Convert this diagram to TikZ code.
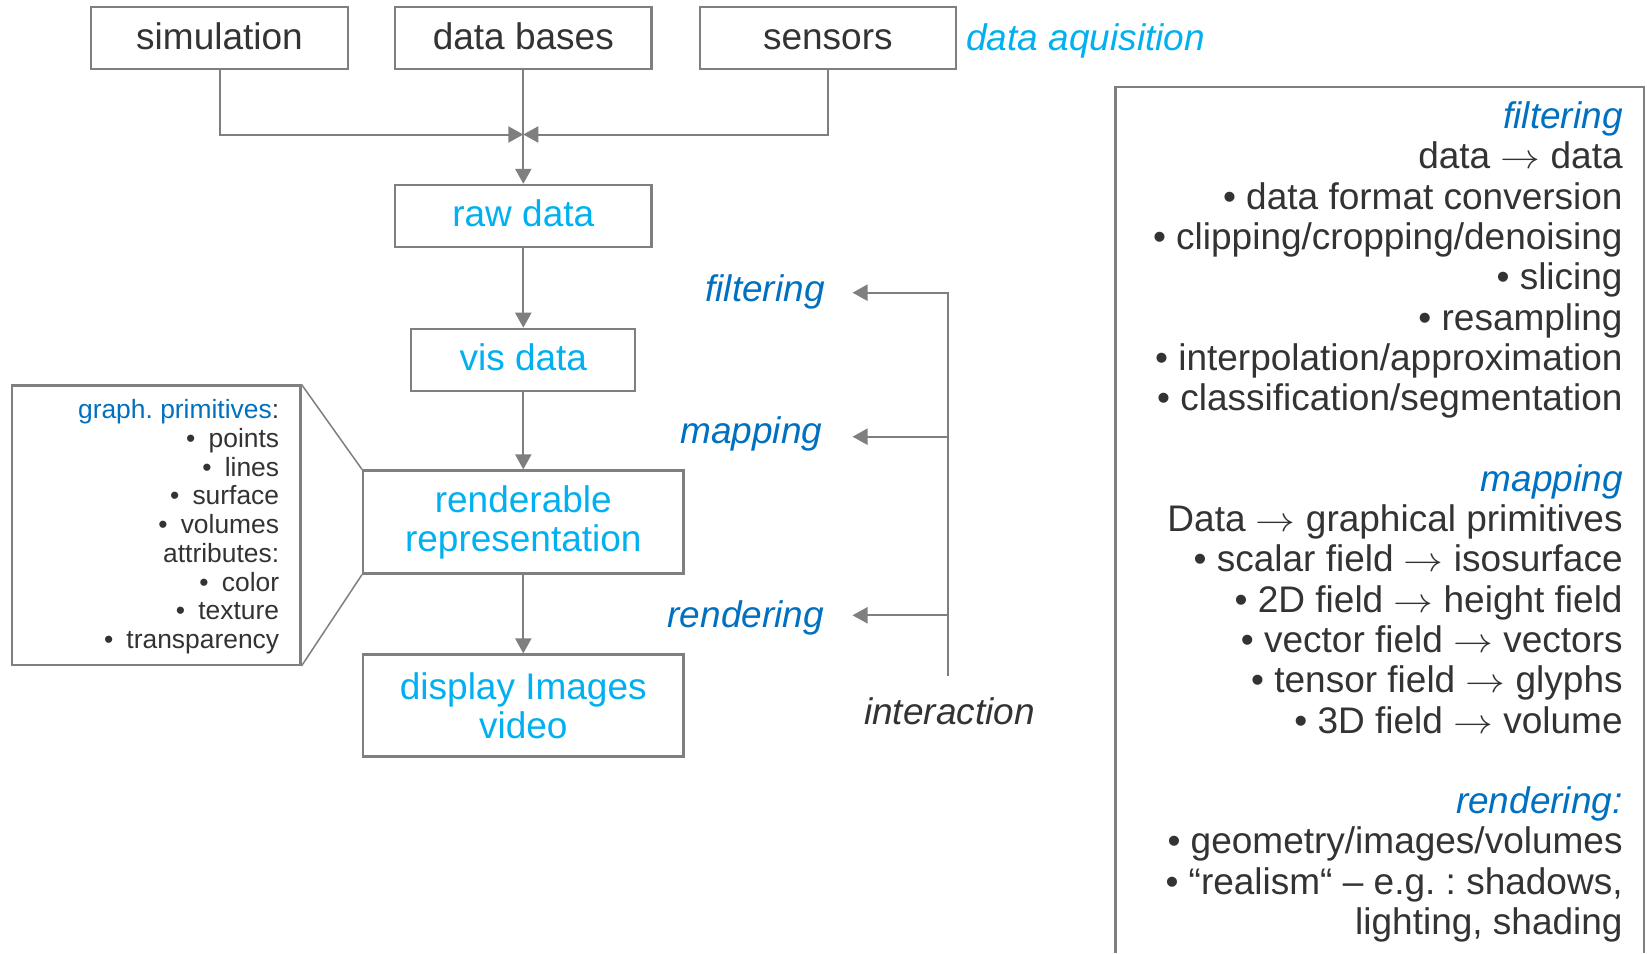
\documentclass[tikz,border=0pt]{standalone}
\usepackage{fontspec}
\usepackage{graphicx}
\setmainfont{Liberation Sans}
\usetikzlibrary{arrows.meta}
\definecolor{txt}{HTML}{333333}
\definecolor{lblue}{HTML}{00B0F0}
\definecolor{dblue}{HTML}{0070C0}
\definecolor{edge}{HTML}{7F7F7F}
\frenchspacing
% thin, slightly widened arrow for the panel text
\newcommand{\maparrow}{\scalebox{1.15}[1.0]{$\rightarrow$}}

\begin{document}
\begin{tikzpicture}[x=0.5pt,y=-0.5pt,
  bigfont/.style={font=\fontsize{18.5}{19.5}\selectfont},
  smallfont/.style={font=\fontsize{13.2}{14.4}\selectfont},
  box/.style={draw=edge, line width=1.1pt, inner sep=0pt, bigfont, align=center},
  oneline/.style={text height=13.3pt, text depth=2.6pt},
  conn/.style={draw=edge, line width=1pt},
  tip/.style={-{Triangle[length=7.5pt,width=8pt]}},
  rline/.style={anchor=base east, inner sep=0pt, bigfont, text=txt},
  pline/.style={anchor=base east, inner sep=0pt, smallfont, text=txt},
  stage/.style={anchor=base east, inner sep=0pt, bigfont, text=dblue, font=\fontsize{18.5}{19.5}\selectfont\itshape},
]
% canvas
\fill[white] (0,0) rectangle (1647,953);
\useasboundingbox (0,0) rectangle (1647,953);

% data sources
\node[box,oneline,text=txt,minimum width=128.2pt,minimum height=31pt] (sim) at (219.5,38.3) {simulation};
\node[box,oneline,text=txt,minimum width=128.2pt,minimum height=31pt] (db)  at (523.3,38.3) {data bases};
\node[box,oneline,text=txt,minimum width=128.2pt,minimum height=31pt] (sen) at (827.8,38.3) {sensors};
\node[anchor=base west, inner sep=0pt, text=lblue, font=\fontsize{18.5}{19.5}\selectfont\itshape] (acq) at (966,50) {data aquisition};

% pipeline stages
\node[box,oneline,text=lblue,minimum width=128.2pt,minimum height=31pt] (raw) at (523.3,215.9) {raw data};
\node[box,oneline,text=lblue,minimum width=112pt,minimum height=31pt] (vis) at (523.3,359.8) {vis data};
\node[box,text=lblue,minimum width=160.2pt,minimum height=51.5pt] (rend) at (523.3,522) {renderable\\representation};
\node[box,text=lblue,minimum width=160.2pt,minimum height=51pt] (disp) at (523.3,705.5) {display Images\\video};

% merging the sources
\coordinate (join) at (523.3,134.5);
\draw[conn,tip] (sim.south) |- (join);
\draw[conn,tip] (sen.south) |- (join);
\draw[conn,tip] (db.south) -- (raw.north);
\draw[conn,tip] (raw.south) -- (vis.north);
\draw[conn,tip] (vis.south) -- (rend.north);
\draw[conn,tip] (rend.south) -- (disp.north);

% graphical primitives call-out
\node[draw=edge, line width=1.1pt, minimum width=144.4pt, minimum height=139.7pt, inner sep=0pt] (prim) at (156,525.2) {};
\draw[edge, line width=0.75pt] (prim.north east) -- (rend.north west);
\draw[edge, line width=0.75pt] (prim.south east) -- (rend.south west);
\node[pline] (p0) at (279.5,418.5) {\textcolor{dblue}{graph. primitives}:};
\node[pline] (p1) at (279.5,447.25) {•\hspace{0.5em}points};
\node[pline] (p2) at (279.5,476) {•\hspace{0.5em}lines};
\node[pline] (p3) at (279.5,504.75) {•\hspace{0.5em}surface};
\node[pline] (p4) at (279.5,533.5) {•\hspace{0.5em}volumes};
\node[pline] (p5) at (279.5,562.25) {attributes:};
\node[pline] (p6) at (279.5,591) {•\hspace{0.5em}color};
\node[pline] (p7) at (279.5,619.75) {•\hspace{0.5em}texture};
\node[pline] (p8) at (279.5,648.5) {•\hspace{0.5em}transparency};

% interaction with the stages
\node[stage] (lf) at (825,301.7) {filtering};
\node[stage] (lm) at (822.7,443.3) {mapping};
\node[stage] (lr) at (824.3,627.7) {rendering};
\node[anchor=base, inner sep=0pt, text=txt, font=\fontsize{18.5}{19.5}\selectfont\itshape] (inter) at (949.5,724.3) {interaction};
\coordinate (fa) at (852.5,292.7);
\coordinate (ma) at (852.5,436.7);
\coordinate (ra) at (852.5,615.3);
\coordinate (ibot) at (947.5,676);
\draw[conn,tip] (ibot) |- (fa);
\draw[conn,tip] (ibot |- ma) -- (ma);
\draw[conn,tip] (ibot |- ra) -- (ra);

% explanation panel
\draw[edge, line width=1.1pt] (1115.5,953) -- (1115.5,87.2) -- (1644,87.2) -- (1644,953);
\node[stage] (r0) at (1623,128.5) {filtering};
\node[rline] (r1) at (1623,168.8) {data \maparrow{} data};
\node[rline] (r2) at (1623,209.1) {• data format conversion};
\node[rline] (r3) at (1623,249.4) {• clipping/cropping/denoising};
\node[rline] (r4) at (1623,289.7) {• slicing};
\node[rline] (r5) at (1623,330.0) {• resampling};
\node[rline] (r6) at (1623,370.3) {• interpolation/approximation};
\node[rline] (r7) at (1623,410.6) {• classification/segmentation};
\node[stage] (r9) at (1623,491.2) {mapping};
\node[rline] (r10) at (1623,531.5) {Data \maparrow{} graphical primitives};
\node[rline] (r11) at (1623,571.8) {• scalar field \maparrow{} isosurface};
\node[rline] (r12) at (1623,612.1) {• 2D field \maparrow{} height field};
\node[rline] (r13) at (1623,652.4) {• vector field \maparrow{} vectors};
\node[rline] (r14) at (1623,692.7) {• tensor field \maparrow{} glyphs};
\node[rline] (r15) at (1623,733.0) {• 3D field \maparrow{} volume};
\node[stage] (r17) at (1623,813.6) {rendering:};
\node[rline] (r18) at (1623,853.9) {• geometry/images/volumes};
\node[rline] (r19) at (1623,894.2) {• “realism“ – e.g. : shadows,};
\node[rline] (r20) at (1623,934.5) {lighting, shading};
\end{tikzpicture}
\end{document}
